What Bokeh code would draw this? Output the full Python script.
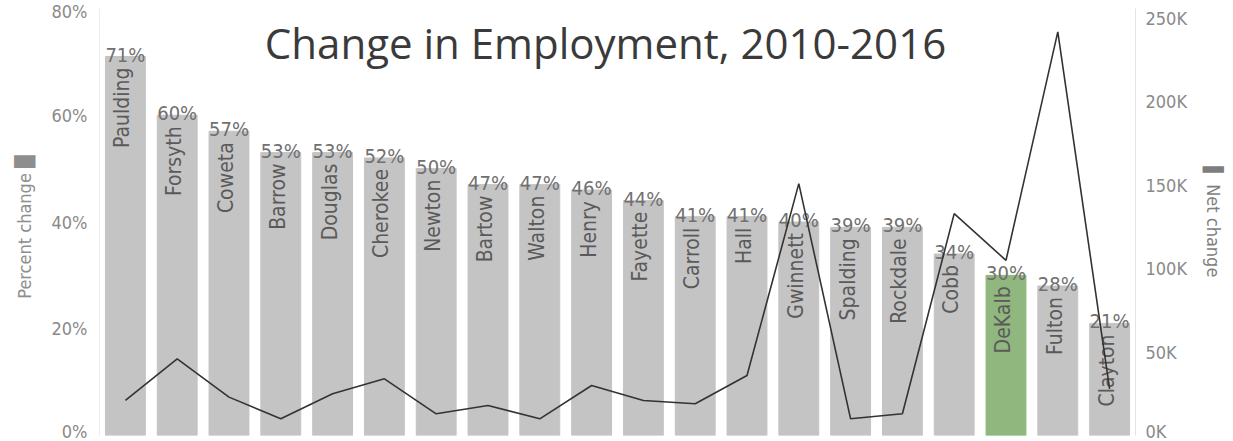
import math
from bokeh.plotting import figure
from bokeh.models import ColumnDataSource, Range1d, LinearAxis, FixedTicker, PrintfTickFormatter, Label
from bokeh.core.properties import value
from bokeh.embed import file_html
from bokeh.resources import INLINE

# ---- data ----
counties = ["Paulding", "Forsyth", "Coweta", "Barrow", "Douglas", "Cherokee", "Newton",
            "Bartow", "Walton", "Henry", "Fayette", "Carroll", "Hall", "Gwinnett",
            "Spalding", "Rockdale", "Cobb", "DeKalb", "Fulton", "Clayton"]
pct_change = [71, 60, 57, 53, 53, 52, 50, 47, 47, 46, 44, 41, 41, 40, 39, 39, 34, 30, 28, 21]
net_change_k = [21, 46, 23, 10, 25, 34, 13, 18, 10, 30, 21, 19, 36, 151, 10, 13, 133, 105, 242, 28]
highlight = "DeKalb"
pct_ticks = [0, 20, 40, 60, 80]
net_ticks = [0, 50, 100, 150, 200, 250]
title_text = "Change in Employment, 2010-2016"

GRAY = "#c4c4c4"
GREEN = "#8fb77e"
TXT = "#707070"
FAM = "DejaVu Sans Condensed, Roboto"
FONT = value(FAM)

colors = [GREEN if c == highlight else GRAY for c in counties]
src = ColumnDataSource(dict(county=counties, pct=pct_change, net=net_change_k, color=colors,
                            pct_label=[f"{v}%" for v in pct_change]))

p = figure(x_range=counties, y_range=Range1d(0, 80), width=1233, height=441,
           output_backend="svg", toolbar_location=None,
           min_border_left=99, min_border_right=98, min_border_top=8, min_border_bottom=6)
p.extra_y_ranges = {"net": Range1d(0, 256)}
p.outline_line_color = None
p.grid.visible = False
p.xaxis.visible = False
p.background_fill_color = "white"

yl = p.yaxis[0]
yl.ticker = FixedTicker(ticks=pct_ticks)
yl.formatter = PrintfTickFormatter(format="%d%%")
yl.axis_label = "Percent change   \u2588"
yl.axis_label_text_font = FAM
yl.axis_label_text_font_style = "normal"
yl.axis_label_text_font_size = "18px"
yl.axis_label_text_color = "#8e8e8e"
yl.axis_label_standoff = 14
yl.major_label_text_font = FAM
yl.major_label_text_font_size = "18px"
yl.major_label_text_color = "#8a8a8a"
yl.axis_line_color = "#ececec"
yl.major_tick_line_color = None
yl.minor_tick_line_color = None
yl.major_label_standoff = 6

yr = LinearAxis(y_range_name="net", ticker=FixedTicker(ticks=net_ticks),
                formatter=PrintfTickFormatter(format="%dK"))
yr.axis_label = "\u258c Net change"
yr.axis_label_text_font = FAM
yr.axis_label_text_font_style = "normal"
yr.axis_label_text_font_size = "18px"
yr.axis_label_text_color = "#7e7e7e"
yr.axis_label_standoff = 13
yr.major_label_text_font = FAM
yr.major_label_text_font_size = "18px"
yr.major_label_text_color = "#8a8a8a"
yr.axis_line_color = "#e4e4e4"
yr.major_tick_line_color = None
yr.minor_tick_line_color = None
yr.major_label_standoff = 4
p.add_layout(yr, "right")

p.vbar(x="county", top="pct", width=0.77, color="color", source=src)
p.text(x="county", y="pct", text="pct_label", text_align="center", text_baseline="alphabetic",
       y_offset=-2, text_font=FONT, text_font_size="20px", text_color=TXT, source=src)
p.text(x="county", y="pct", text="county", angle=math.pi / 2, text_align="right",
       text_baseline="middle", x_offset=-3, y_offset=11, text_font=FONT, text_font_size="21px",
       text_color="#5a5a5a", source=src)
p.line(x="county", y="net", y_range_name="net", line_color="#333333", line_width=1.6, source=src)

p.add_layout(Label(x=506, y=393, x_units="screen", y_units="screen", text=title_text,
                   text_align="center", text_baseline="alphabetic", text_font="Open Sans",
                   text_font_size="42px", text_color="#3a3a3a", level="overlay"))

open("out.html", "w").write(file_html(p, INLINE))
